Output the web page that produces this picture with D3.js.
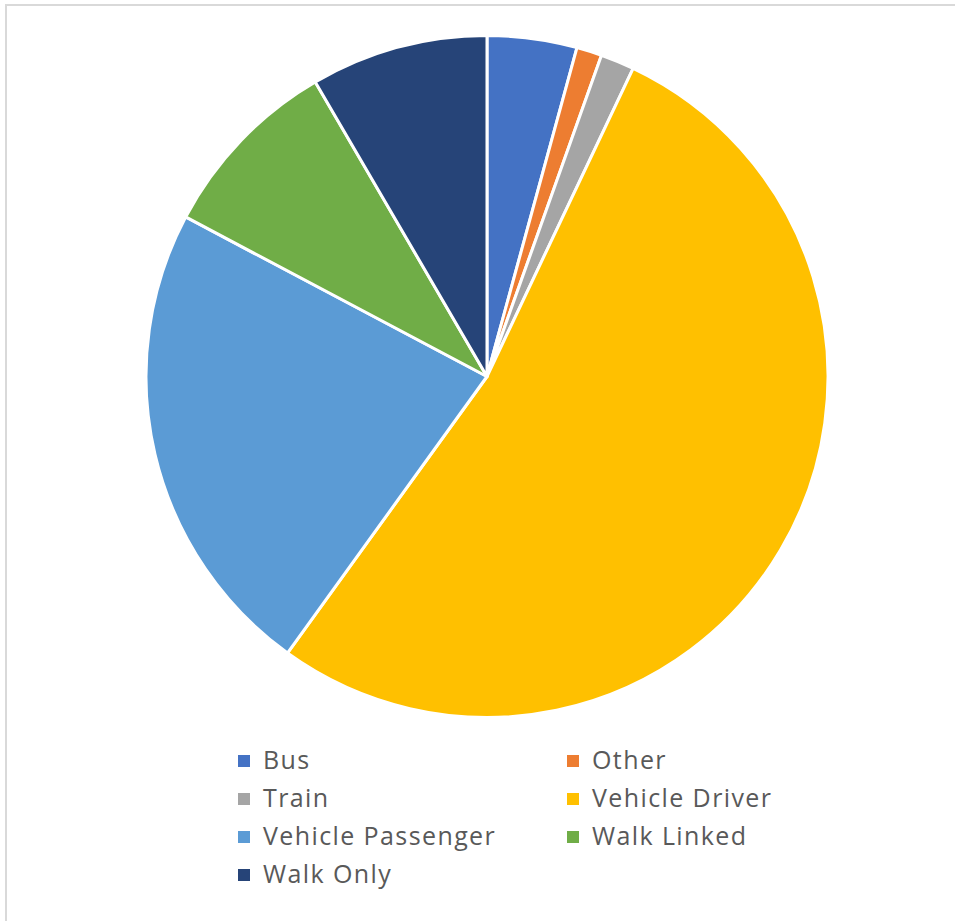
<!DOCTYPE html>
<html>
<head>
<meta charset="utf-8">
<script src="https://cdn.jsdelivr.net/npm/d3@7"></script>
<style>
  body { margin: 0; background: #fff; }
</style>
</head>
<body>
<div class="d3Chart"></div>
<script>
// data
var categories = ["Bus", "Other", "Train", "Vehicle Driver", "Vehicle Passenger", "Walk Linked", "Walk Only"];
var values = [4.25, 1.2, 1.6, 52.9, 22.8, 8.85, 8.4];
var colors = ["#4472c4", "#ed7d31", "#a5a5a5", "#ffc000", "#5b9bd5", "#70ad47", "#264478"];

var width = 955;
var height = 921;

var svg = d3.select(".d3Chart")
  .append("svg")
  .attr("width", width)
  .attr("height", height);

// chart border
svg.append("rect")
  .attr("x", 6)
  .attr("y", 5)
  .attr("width", width + 10)
  .attr("height", height + 10)
  .attr("fill", "#fff")
  .attr("stroke", "#d9d9d9")
  .attr("stroke-width", 2);

var colorScale = d3.scaleOrdinal().domain(categories).range(colors);

var pieData = d3.pie().sort(null).value(function (d, i) { return values[i]; })(categories);

var arc = d3.arc().innerRadius(0).outerRadius(341);

var pieG = svg.append("g").attr("transform", "translate(487,376.5)");

pieG.selectAll("path")
  .data(pieData)
  .enter()
  .append("path")
  .attr("d", arc)
  .attr("fill", function (d) { return colorScale(d.data); })
  .attr("stroke", "#fff")
  .attr("stroke-width", 3)
  .attr("stroke-linejoin", "round");

// legend, two columns
var legend = svg.append("g");
var items = legend.selectAll("g")
  .data(categories)
  .enter()
  .append("g")
  .attr("transform", function (d, i) {
    var col = i % 2;
    var row = Math.floor(i / 2);
    return "translate(" + (col === 0 ? 238 : 567) + "," + (761 + row * 38) + ")";
  });

items.append("rect")
  .attr("x", 0)
  .attr("y", -6)
  .attr("width", 12)
  .attr("height", 12)
  .attr("fill", function (d) { return colorScale(d); });

items.append("text")
  .attr("x", 25)
  .attr("y", 8)
  .attr("font-family", "'Open Sans', sans-serif")
  .attr("font-size", 25)
  .attr("letter-spacing", 1.4)
  .attr("fill", "#595959")
  .text(function (d) { return d; });
</script>
</body>
</html>
